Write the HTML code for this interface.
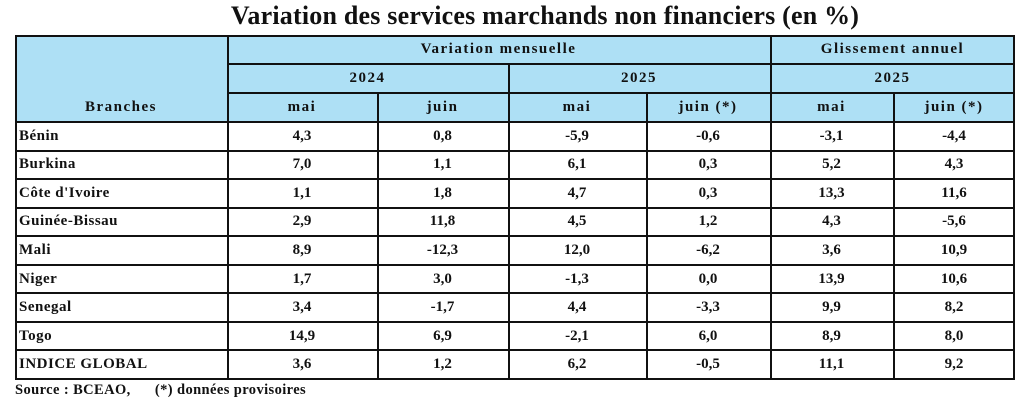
<!DOCTYPE html>
<html><head><meta charset="utf-8"><style>
body{margin:0;width:1024px;height:408px;background:#fff;position:relative;overflow:hidden;font-family:"Liberation Serif",serif;font-weight:bold;color:#111}
.t{position:absolute;left:0;width:1090px;top:1px;text-align:center;font-size:26px;letter-spacing:0.2px}
.c{position:absolute;box-sizing:border-box;display:flex;align-items:center;justify-content:center;font-size:15px}
.h{background:#aee0f5;letter-spacing:1.5px}
.l{justify-content:flex-start;padding-left:4px;letter-spacing:0.5px}
.ln{position:absolute;background:#111}
.src{position:absolute;left:15px;top:382px;font-size:14.5px;letter-spacing:0.4px}
</style></head><body>
<div class="t">Variation des services marchands non financiers (en %)</div>
<div id="g"></div>
<div class="src">Source : BCEAO,&nbsp;&nbsp;&nbsp;&nbsp;&nbsp; (*) données provisoires</div>
<script>
var g=document.getElementById('g');
var X=[15,227,377,508,646,770,893,1015];
var Y=[35,64,93,122];
function cell(x1,y1,x2,y2,txt,cls){var d=document.createElement('div');d.className='c '+(cls||'');d.style.left=x1+'px';d.style.top=y1+'px';d.style.width=(x2-x1)+'px';d.style.height=(y2-y1)+'px';d.innerHTML=txt;g.appendChild(d);}
function line(x,y,w,h){var d=document.createElement('div');d.className='ln';d.style.left=x+'px';d.style.top=y+'px';d.style.width=w+'px';d.style.height=h+'px';g.appendChild(d);}
cell(15,35,1015,122,'','h');
cell(15,93,227,122,'Branches','h');
cell(227,35,770,64,'Variation mensuelle','h');
cell(770,35,1015,64,'Glissement annuel','h');
cell(227,64,508,93,'2024','h');cell(508,64,770,93,'2025','h');cell(770,64,1015,93,'2025','h');
var hd=['mai','juin','mai','juin (*)','mai','juin (*)'];
for(var i=0;i<6;i++)cell(X[i+1],93,X[i+2],122,hd[i],'h');
var rows=[['Bénin','4,3','0,8','-5,9','-0,6','-3,1','-4,4'],
['Burkina','7,0','1,1','6,1','0,3','5,2','4,3'],
["Côte d'Ivoire",'1,1','1,8','4,7','0,3','13,3','11,6'],
['Guinée-Bissau','2,9','11,8','4,5','1,2','4,3','-5,6'],
['Mali','8,9','-12,3','12,0','-6,2','3,6','10,9'],
['Niger','1,7','3,0','-1,3','0,0','13,9','10,6'],
['Senegal','3,4','-1,7','4,4','-3,3','9,9','8,2'],
['Togo','14,9','6,9','-2,1','6,0','8,9','8,0'],
['INDICE GLOBAL','3,6','1,2','6,2','-0,5','11,1','9,2']];
var rh=(379-122)/9;
for(var r=0;r<9;r++){var y1=122+r*rh,y2=y1+rh;Y.push(Math.round(y2));
 for(var c=0;c<7;c++)cell(X[c],y1,X[c+1],y2,rows[r][c],c==0?'l':'');}
line(15,35,1000,2);line(15,378,1000,2);
line(15,35,2,345);line(1013,35,2,345);
line(227,35,2,345);line(770,35,2,345);
line(508,64,2,316);
line(377,93,2,287);line(646,93,2,287);line(893,93,2,287);
line(227,63,788,2);line(227,92,788,2);
for(var k=3;k<Y.length-1;k++)line(15,Y[k]-1,1000,2);
</script>
</body></html>
